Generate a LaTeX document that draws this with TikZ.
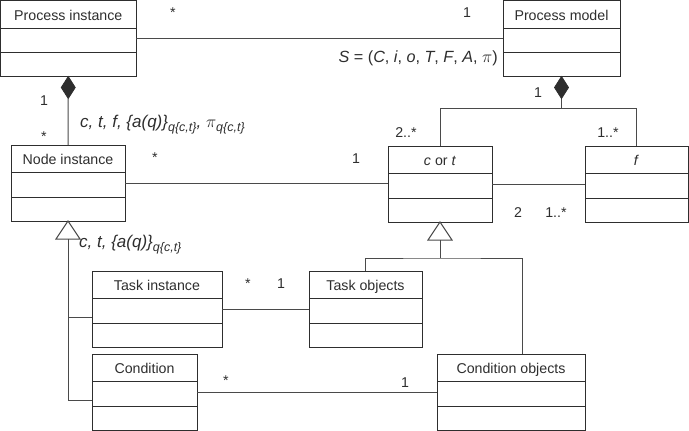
\documentclass[tikz,border=0pt]{standalone}
\usepackage{fontspec}
\setmainfont{Liberation Sans}
\usetikzlibrary{calc}
\definecolor{ink}{HTML}{2E2E2E}
\definecolor{wire}{HTML}{4A4A4A}
\newcommand\sbs[1]{\raisebox{-4pt}{\fontsize{12.5}{13}\selectfont\itshape #1}}
\newcommand\umlclass[5]{%
  \node[classbox, minimum width={(#4-#2)*1pt}] (#1) at (#2,#3) {};
  \draw[divider] ([yshift=-27.5pt]#1.north west) -- ([yshift=-27.5pt]#1.north east);
  \draw[divider] ([yshift=-52pt]#1.north west) -- ([yshift=-52pt]#1.north east);
  \node[classtitle] (#1-t) at ([yshift=-19.5pt]#1.north) {#5};
}
\begin{document}
\begin{tikzpicture}[x=1pt,y=-1pt,
  font=\fontsize{14.2}{16}\selectfont,
  classbox/.style={draw=ink, line width=1pt, anchor=north west, minimum height=76pt, inner sep=0pt, outer sep=0pt, fill=white},
  divider/.style={draw=ink, line width=0.9pt},
  classtitle/.style={anchor=base, inner sep=0pt, text=ink},
  lbl/.style={anchor=base, inner sep=0pt, text=ink},
  mathlbl/.style={anchor=base west, inner sep=0pt, text=ink, font=\fontsize{17}{19}\selectfont\itshape},
  assoc/.style={draw=wire, line width=1pt},
  compo/.style={draw=ink, fill=ink, line width=0.8pt, line join=miter},
  gen/.style={draw=wire, fill=white, line width=1pt, line join=miter}]
\useasboundingbox (0,0) rectangle (689,431);

% classes
\umlclass{pi}{0.5}{0.5}{136}{Process instance}
\umlclass{pm}{503}{0.5}{620}{Process model}
\umlclass{ni}{11}{145}{125}{Node instance}
\umlclass{cot}{388}{146}{492}{\textit{c} or \textit{t}}
\umlclass{f}{585}{146}{688}{\textit{f}}
\umlclass{ti}{92}{271}{222}{Task instance}
\umlclass{to}{309}{271}{422}{Task objects}
\umlclass{cd}{92}{354}{197}{Condition}
\umlclass{co}{437}{354}{585}{Condition objects}

% associations
\draw[assoc] (pi) -- (pm);
\draw[assoc] (ni.east) -- (ni.east -| cot.west);
\draw[assoc] (cot) -- (f);
\draw[assoc] (ti) -- (to);
\draw[assoc] (cd) -- (co);

% composition Process instance -> Node instance
\draw[compo] (pi.south) -- ++(7,11) -- ++(-7,11) coordinate (d1b) -- ++(-7,-11) -- cycle;
\draw[assoc] (d1b) -- (ni.north);

% composition Process model -> c or t, f
\draw[compo] (pm.south) -- ++(7,11) -- ++(-7,11) coordinate (d2b) -- ++(-7,-11) -- cycle;
\draw[assoc] (d2b) -- ++(0,10) coordinate (j1);
\draw[assoc] (cot.north) |- (j1) -| (f.north);

% generalization Node instance
\draw[gen] (ni.south) -- ++(12,18) -- ++(-24,0) -- cycle;
\coordinate (g1b) at ($(ni.south)+(0,18)$);
\draw[assoc] ($(ti.west)+(0,8)$) -| (g1b);
\draw[assoc] (g1b) |- ($(cd.west)+(0,8)$);

% generalization c or t
\draw[gen] (cot.south) -- ++(12,18) -- ++(-24,0) -- cycle;
\coordinate (g2b) at ($(cot.south)+(0,18)$);
\draw[assoc] (g2b) -- ++(0,18) coordinate (j2);
\draw[assoc] (to.north) |- (j2) -| ($(co.north)+(11,0)$);

% labels
\node[lbl] (m1) at (173,17) {*};
\node[lbl] (m2) at (467,17) {1};
\node[lbl, anchor=base east, font=\fontsize{16.2}{18}\selectfont] (sdef) at (498,63) {\textit{S} = (\textit{C}, \textit{i}, \textit{o}, \textit{T}, \textit{F}, \textit{A}, $\pi$)};
\node[lbl] (m3) at (44,105) {1};
\node[lbl] (m4) at (44,141) {*};
\node[mathlbl] (l1) at (80,127) {c, t, f, \{a(q)\}\sbs{q\{c,t\}}, $\pi$\sbs{q\{c,t\}}};
\node[lbl] (m5) at (155,162) {*};
\node[lbl] (m6) at (356,163) {1};
\node[lbl] (m7) at (406,137) {2..*};
\node[lbl] (m8) at (608,137) {1..*};
\node[lbl] (m9) at (538,97) {1};
\node[lbl] (m10) at (518,217) {2};
\node[lbl] (m11) at (556,217) {1..*};
\node[mathlbl] (l2) at (79,247) {c, t, \{a(q)\}\sbs{q\{c,t\}}};
\node[lbl] (m12) at (248,288) {*};
\node[lbl] (m13) at (281,288) {1};
\node[lbl] (m14) at (226,385) {*};
\node[lbl] (m15) at (405,387) {1};
\end{tikzpicture}
\end{document}
